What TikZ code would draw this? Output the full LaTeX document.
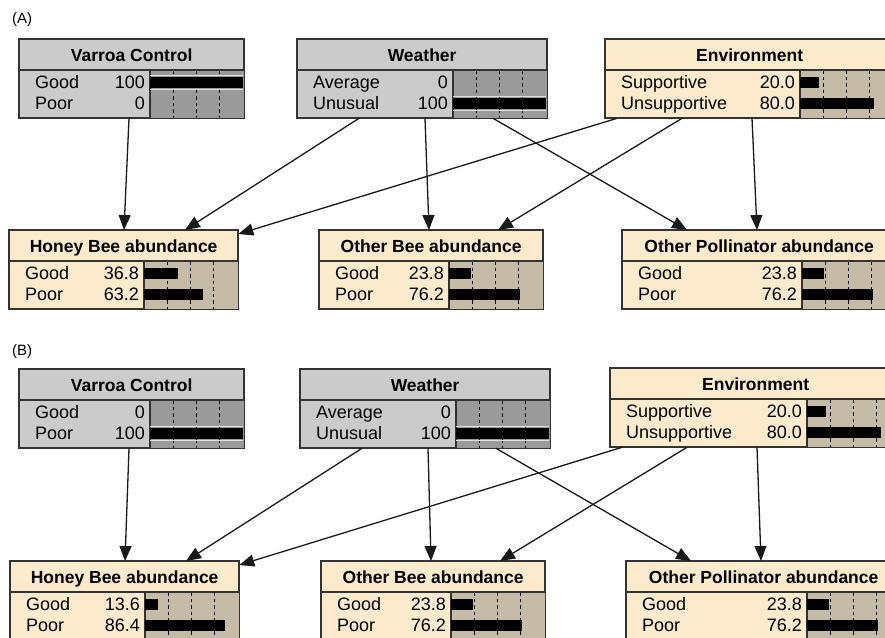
\documentclass[tikz,border=0pt]{standalone}
\usepackage{fontspec}
\setmainfont{Liberation Sans}
\usetikzlibrary{arrows.meta}

\definecolor{greybody}{HTML}{CBCBCB}
\definecolor{greybar}{HTML}{9A9A9A}
\definecolor{creambody}{HTML}{FBEACB}
\definecolor{tanbar}{HTML}{C6BBA7}

\tikzset{
  box/.style={draw=black!80, line width=1.3pt, inner sep=0pt, anchor=north west},
  edge/.style={draw=black!80, line width=1.3pt},
  tick/.style={line width=1.1pt, dash pattern=on 3.5pt off 3pt},
  lbl/.style={anchor=base west, inner sep=0pt, font=\fontsize{18}{20}\selectfont},
  val/.style={anchor=base east, inner sep=0pt, font=\fontsize{18}{20}\selectfont},
  ttl/.style={anchor=base, inner sep=0pt, font=\bfseries\fontsize{17.5}{20}\selectfont},
  link/.style={line width=1.3pt, black!90, -{Triangle[length=15pt,width=12pt]}},
}

% name, x, y, text width, title, body colour, bar colour
\newcommand{\bnbox}[7]{%
  \pgfmathsetmacro\bw{#4+93}
  \node[box, fill=#6, minimum width=\bw pt, minimum height=78pt] (#1) at (#2,#3) {};
  \fill[#7] ([xshift=#4pt,yshift=-31pt]#1.north west) rectangle (#1.south east);
  \foreach \q in {0.25,0.5,0.75}
    \draw[tick] ([xshift=#4pt+\q*93pt,yshift=-31pt]#1.north west) -- ([xshift=#4pt+\q*93pt]#1.south west);
  \draw[edge] ([yshift=-31pt]#1.north west) -- ([yshift=-31pt]#1.north east);
  \draw[edge] ([xshift=#4pt,yshift=-31pt]#1.north west) -- ([xshift=#4pt]#1.south west);
  \draw[edge] (#1.north west) rectangle (#1.south east);
  \node[ttl] at ([yshift=-22pt]#1.north) {#5};
}
% name, text width, row, label, value, share
\newcommand{\bnstate}[6]{%
  \node[lbl] at ([xshift=16pt,yshift=-49.5pt-#3*21pt]#1.north west) {#4};
  \node[val] at ([xshift=#2pt-5pt,yshift=-49.5pt-#3*21pt]#1.north west) {#5};
  \fill ([xshift=#2pt,yshift=-37.5pt-#3*21pt]#1.north west) rectangle ++(#6*0.93,11);
}
% light rims round a full bar
\newcommand{\bnfull}[3]{%
  \draw[white!75!gray, line width=0.9pt] ([xshift=#2pt,yshift=-36pt-#3*21pt]#1.north west) -- ++(93,0);
  \draw[white!75!gray, line width=0.9pt] ([xshift=#2pt,yshift=-50pt-#3*21pt]#1.north west) -- ++(93,0);
}

\begin{document}
\begin{tikzpicture}[x=1pt,y=-1pt]
\useasboundingbox (0,0) rectangle (885,637);
\clip (0,0) rectangle (885,637);

% (A)
\node[anchor=west, inner sep=0pt, font=\fontsize{15}{17}\selectfont] (labA) at (12,20) {(A)};
\bnbox{vcA}{19}{39}{131}{Varroa Control}{greybody}{greybar}
\bnstate{vcA}{131}{0}{Good}{100}{100}
\bnstate{vcA}{131}{1}{Poor}{0}{0}
\bnfull{vcA}{131}{0}
\bnbox{wtA}{297}{39}{156}{Weather}{greybody}{greybar}
\bnstate{wtA}{156}{0}{Average}{0}{0}
\bnstate{wtA}{156}{1}{Unusual}{100}{100}
\bnfull{wtA}{156}{1}
\bnbox{envA}{605}{39}{195}{Environment}{creambody}{tanbar}
\bnstate{envA}{195}{0}{Supportive}{20.0}{20}
\bnstate{envA}{195}{1}{Unsupportive}{80.0}{80}
\bnbox{hbA}{9}{230}{135}{Honey Bee abundance}{creambody}{tanbar}
\bnstate{hbA}{135}{0}{Good}{36.8}{36.8}
\bnstate{hbA}{135}{1}{Poor}{63.2}{63.2}
\bnbox{obA}{319}{230}{130}{Other Bee abundance}{creambody}{tanbar}
\bnstate{obA}{130}{0}{Good}{23.8}{23.8}
\bnstate{obA}{130}{1}{Poor}{76.2}{76.2}
\bnbox{opA}{622}{230}{180}{Other Pollinator abundance}{creambody}{tanbar}
\bnstate{opA}{180}{0}{Good}{23.8}{23.8}
\bnstate{opA}{180}{1}{Poor}{76.2}{76.2}

% (B)
\node[anchor=west, inner sep=0pt, font=\fontsize{15}{17}\selectfont] (labB) at (12,352) {(B)};
\bnbox{vcB}{19}{369}{131}{Varroa Control}{greybody}{greybar}
\bnstate{vcB}{131}{0}{Good}{0}{0}
\bnstate{vcB}{131}{1}{Poor}{100}{100}
\bnfull{vcB}{131}{1}
\bnbox{wtB}{300}{369}{156}{Weather}{greybody}{greybar}
\bnstate{wtB}{156}{0}{Average}{0}{0}
\bnstate{wtB}{156}{1}{Unusual}{100}{100}
\bnfull{wtB}{156}{1}
\bnbox{envB}{610}{368}{197}{Environment}{creambody}{tanbar}
\bnstate{envB}{197}{0}{Supportive}{20.0}{20}
\bnstate{envB}{197}{1}{Unsupportive}{80.0}{80}
\bnbox{hbB}{10}{561}{135}{Honey Bee abundance}{creambody}{tanbar}
\bnstate{hbB}{135}{0}{Good}{13.6}{13.6}
\bnstate{hbB}{135}{1}{Poor}{86.4}{86.4}
\bnbox{obB}{321}{561}{130}{Other Bee abundance}{creambody}{tanbar}
\bnstate{obB}{130}{0}{Good}{23.8}{23.8}
\bnstate{obB}{130}{1}{Poor}{76.2}{76.2}
\bnbox{opB}{626}{561}{181}{Other Pollinator abundance}{creambody}{tanbar}
\bnstate{opB}{181}{0}{Good}{23.8}{23.8}
\bnstate{opB}{181}{1}{Poor}{76.2}{76.2}

% links
\foreach \p in {A,B}{
  \draw[link] ([xshift=110pt]vc\p.south west) -- ([xshift=115pt]hb\p.north west);
  \draw[link] ([xshift=62pt]wt\p.south west) -- ([xshift=176pt]hb\p.north west);
  \draw[link] ([xshift=12pt]env\p.south west) -- ([yshift=-4pt]hb\p.north east);
  \draw[link] ([xshift=128pt]wt\p.south west) -- ([xshift=110pt]ob\p.north west);
  \draw[link] ([xshift=196pt]wt\p.south west) -- ([xshift=65pt]op\p.north west);
  \draw[link] ([xshift=77pt]env\p.south west) -- ([xshift=179pt]ob\p.north west);
  \draw[link] ([xshift=147pt]env\p.south west) -- ([xshift=135pt]op\p.north west);
}
\end{tikzpicture}
\end{document}
